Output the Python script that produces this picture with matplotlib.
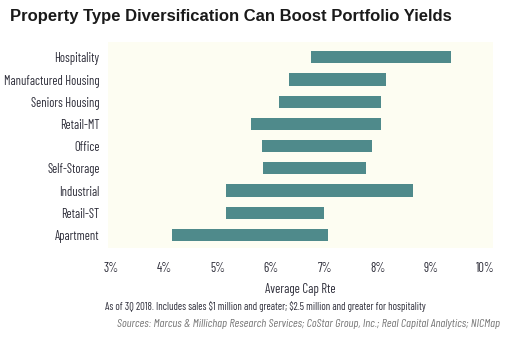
import matplotlib
matplotlib.use("Agg")
import matplotlib.pyplot as plt

COND = "Barlow Condensed"

categories = ["Apartment", "Retail-ST", "Industrial", "Self-Storage", "Office",
              "Retail-MT", "Seniors Housing", "Manufactured Housing", "Hospitality"]
low = [4.14, 5.15, 5.15, 5.85, 5.83, 5.62, 6.15, 6.33, 6.75]
high = [7.06, 6.99, 8.66, 7.78, 7.89, 8.05, 8.05, 8.15, 9.37]
xticks = [3, 4, 5, 6, 7, 8, 9, 10]
xticklabels = ["3%", "4%", "5%", "6%", "7%", "8%", "9%", "10%"]

fig = plt.figure(figsize=(5.21, 3.52), dpi=100)
ax = fig.add_axes([108/521, 1-248/352, (493-108)/521, (248-42)/352])
ax.set_facecolor("#fdfdf2")
ypos = list(range(len(categories)))
ax.barh(ypos, [h - l for l, h in zip(low, high)], left=low, height=0.55,
        color="#4f8a8b")
ax.set_xlim(2.944, 10.153)
ax.set_ylim(-0.585, 8.69)
ax.set_yticks(ypos)
ax.set_yticklabels(categories, fontfamily=COND, fontsize=9, color="#2e2e3a")
ax.set_xticks(xticks)
ax.set_xticklabels(xticklabels, fontfamily=COND, fontsize=9.2, color="#2e2e3a")
ax.tick_params(length=0, pad=6)
ax.tick_params(axis="x", pad=10)
for s in ax.spines.values():
    s.set_visible(False)
ax.set_xlabel("Average Cap Rte", fontfamily=COND, fontsize=9.2, color="#2e2e3a", labelpad=6)

fig.text(10/521, 1-16/352, "Property Type Diversification Can Boost Portfolio Yields",
         fontfamily="Liberation Sans", fontweight="bold", fontsize=12, color="#1a1a1a",
         va="center", ha="left")
fig.text(105/521, 1-307/352,
         "As of 3Q 2018. Includes sales \\$1 million and greater; \\$2.5 million and greater for hospitality",
         fontfamily=COND, fontsize=7.6, color="#2e2e3a", va="center", ha="left")
fig.text(500/521, 1-324/352,
         "Sources: Marcus & Millichap Research Services; CoStar Group, Inc.; Real Capital Analytics; NICMap",
         fontfamily=COND, fontsize=8.6, style="italic", color="#777777", va="center", ha="right")

fig.savefig("out.png", dpi=100)
